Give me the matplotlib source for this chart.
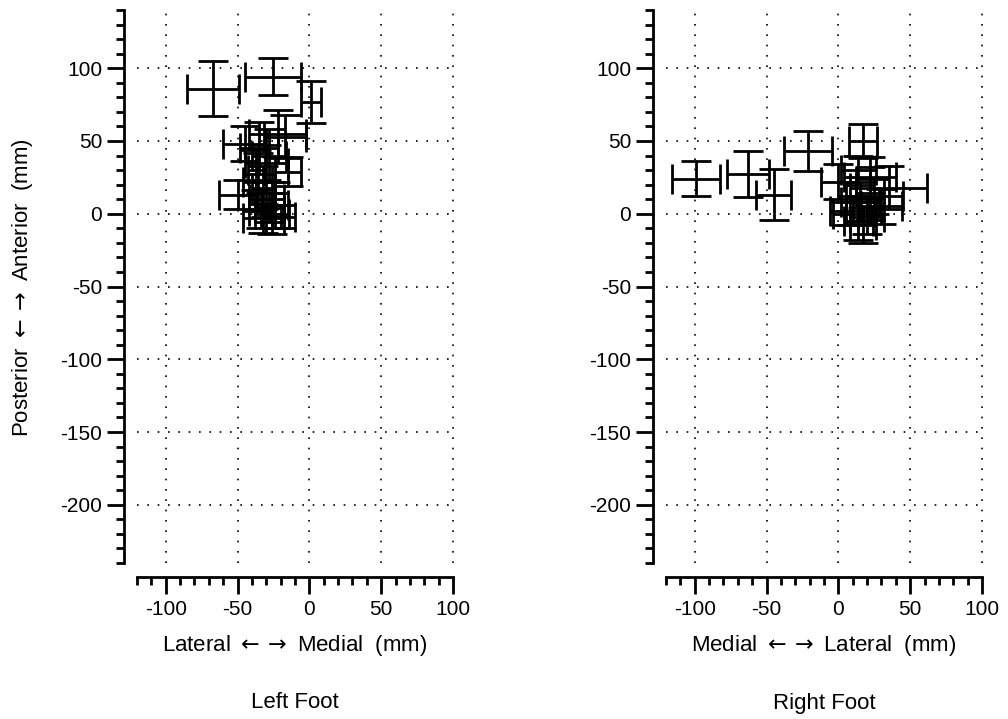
import matplotlib
matplotlib.use("Agg")
import matplotlib.pyplot as plt
from matplotlib.ticker import MultipleLocator

plt.rcParams['font.family'] = ['Liberation Sans', 'DejaVu Sans']
plt.rcParams['mathtext.fontset'] = 'dejavusans'
plt.rcParams['axes.unicode_minus'] = False

# Centre of pressure per trial (mm): centre x, centre y, x half-range, y half-range
left_x = [-67, -25, 1, -17, -45, -35, -28, -15, -50, -36, -32, -30, -28, -24, -34, -32, -26, -20, -37, -30, -22]
left_y = [86, 94, 77, 53, 48, 45, 40, 29, 13, 22, 18, 10, 4, 6, 2, -3, 0, -2, 30, 35, 55]
left_xerr = [18, 19.5, 7, 14.6, 15, 13, 12, 9, 13, 10, 8, 12, 10, 9, 8, 14, 12, 10, 6, 15, 20]
left_yerr = [19, 12.7, 14.5, 15, 12, 18, 18, 10, 10, 20, 15, 12, 10, 16, 12, 10, 14, 8, 14, 12, 16]

right_x = [-99, -63, -45, -21, 17, 0, 14, 22, 35, 25, 15, 10, 20, 14, 17, 30, 5, 22]
right_y = [24, 27, 13, 43, 50, 22, 30, 25, 18, 12, 8, 2, -2, -5, -8, 5, 0, 14]
right_xerr = [16.5, 14.6, 12, 16.7, 9.8, 12, 12, 18, 27, 20, 13, 16, 12, 10, 9, 14, 9, 10]
right_yerr = [12, 15.8, 17.5, 13.8, 12, 12, 10, 14, 15, 12, 14, 10, 12, 13, 12, 12, 8, 18]

x_ticks = [-100, -50, 0, 50, 100]
y_ticks = [-200, -150, -100, -50, 0, 50, 100]

ARROWS = r"$\leftarrow\rightarrow$"
panels = [
    (left_x, left_y, left_xerr, left_yerr,
     "Lateral " + ARROWS + " Medial  (mm)", "Left Foot", 137),
    (right_x, right_y, right_xerr, right_yerr,
     "Medial " + ARROWS + " Lateral  (mm)", "Right Foot", 666),
]

W, H = 1008, 719
fig = plt.figure(figsize=(W / 100, H / 100), dpi=100)
tick_fs = 15
label_fs = 16

for xs, ys, xe, ye, xlab, title, left_px in panels:
    ax = fig.add_axes([left_px / W, (H - 563) / H, 316 / W, 553 / H])
    ax.errorbar(xs, ys, xerr=xe, yerr=ye, fmt='none', ecolor='black',
                elinewidth=2.0, capsize=10.5, capthick=2.0)
    ax.set_xlim(-120, 100)
    ax.set_ylim(-240, 140)
    ax.set_xticks(x_ticks)
    ax.set_yticks(y_ticks)
    ax.xaxis.set_minor_locator(MultipleLocator(10))
    ax.yaxis.set_minor_locator(MultipleLocator(10))
    for s in ('top', 'right'):
        ax.spines[s].set_visible(False)
    ax.spines['left'].set_position(('outward', 9.5))
    ax.spines['bottom'].set_position(('outward', 10))
    for s in ('left', 'bottom'):
        ax.spines[s].set_linewidth(2.0)
    ax.tick_params(which='major', length=12.5, width=2.0, labelsize=tick_fs, direction='out')
    ax.tick_params(which='minor', length=6, width=2.0, direction='out')
    ax.tick_params(axis='x', pad=4)
    ax.tick_params(axis='y', pad=3)
    ax.grid(True, which='major', color='black', linestyle=(0, (1, 5.2)), linewidth=1.2)
    for gl in ax.get_xgridlines() + ax.get_ygridlines():
        gl.set_clip_on(False)
    ax.set_axisbelow(True)
    cx = (left_px + 158) / W
    fig.text(cx, 1 - 646 / H, xlab, ha='center', va='center', fontsize=label_fs)
    fig.text(cx, 1 - 703 / H, title, ha='center', va='center', fontsize=label_fs)

fig.text(23 / W, 1 - 288 / H, "Posterior " + ARROWS + " Anterior  (mm)", rotation=90,
         ha='center', va='center', fontsize=label_fs)

fig.savefig("out.png", dpi=100)
